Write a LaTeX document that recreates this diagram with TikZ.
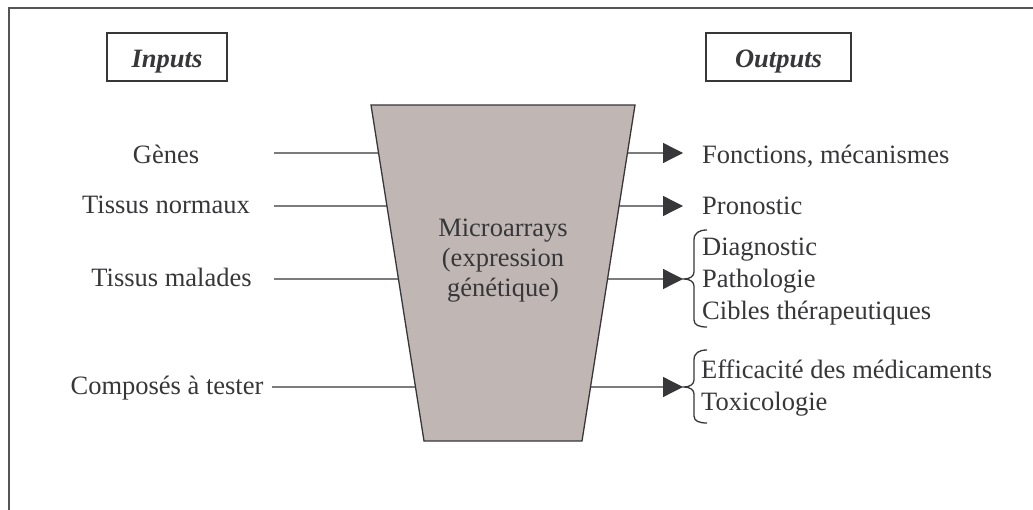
\documentclass[tikz,border=0pt]{standalone}
\usepackage{fontspec}
\setmainfont{Liberation Serif}
\usetikzlibrary{arrows.meta,calc}
\definecolor{ink}{RGB}{55,55,58}
\definecolor{framec}{RGB}{85,85,88}
\definecolor{trapfill}{RGB}{192,182,180}
\begin{document}
\begin{tikzpicture}[x=1pt,y=-1pt,
 lbl/.style={inner sep=0pt,text=ink,font=\fontsize{26.5}{30}\selectfont},
 conn/.style={draw=ink,line width=1.3pt},
 arr/.style={conn,-{Triangle[length=20pt,width=20pt]}},
 hdr/.style={draw=ink,line width=1.3pt,inner sep=0pt,minimum height=48pt,text height=24pt,text depth=2pt,text=ink,font=\fontsize{26.5}{30}\selectfont\bfseries\itshape},
 brc/.style={draw=ink,line width=1.3pt}]
\useasboundingbox (0,0) rectangle (1033,510);
\fill[white] (0,0) rectangle (1033,510);
\draw[draw=framec,line width=1.8pt] (9,515) -- (9,8) -- (1040,8);
% headers
\node[hdr,minimum width=120pt] (inp) at (167,57) {Inputs};
\node[hdr,minimum width=145pt] (outp) at (778.5,57) {Outputs};
% trapezoid
\coordinate (TL) at (371,105);
\coordinate (TR) at (635,105);
\coordinate (BR) at (582,441);
\coordinate (BL) at (424,441);
\draw[draw=ink,line width=1.3pt,fill=trapfill] (TL) -- (TR) -- (BR) -- (BL) -- cycle;
\node[lbl,align=center,anchor=base] (mic) at (503,297) {Microarrays\\(expression\\génétique)};
% inputs
\node[lbl,anchor=base] (g) at (166,164) {Gènes};
\node[lbl,anchor=base] (tn) at (166,214) {Tissus normaux};
\node[lbl,anchor=base] (tm) at (171.5,287) {Tissus malades};
\node[lbl,anchor=base] (cp) at (167,395) {Composés à tester};
\coordinate (g0) at (274,153);
\coordinate (tn0) at (274,206);
\coordinate (tm0) at (274,279);
\coordinate (cp0) at (272,387);
\coordinate (gL) at ($(TL)!0.142857!(BL)$);
\coordinate (tnL) at ($(TL)!0.300595!(BL)$);
\coordinate (tmL) at ($(TL)!0.517857!(BL)$);
\coordinate (cpL) at ($(TL)!0.839286!(BL)$);
\draw[conn] (g0) -- (gL);
\draw[conn] (tn0) -- (tnL);
\draw[conn] (tm0) -- (tmL);
\draw[conn] (cp0) -- (cpL);
% outputs
\coordinate (fR) at ($(TR)!0.142857!(BR)$);
\coordinate (pR) at ($(TR)!0.300595!(BR)$);
\coordinate (dR) at ($(TR)!0.517857!(BR)$);
\coordinate (eR) at ($(TR)!0.839286!(BR)$);
\coordinate (f1) at (683,153);
\coordinate (p1) at (683,206);
\coordinate (d1) at (683,279);
\coordinate (e1) at (683,387);
\draw[arr] (fR) -- (f1);
\draw[arr] (pR) -- (p1);
\draw[arr] (dR) -- (d1);
\draw[arr] (eR) -- (e1);
\node[lbl,anchor=base west] (fo) at (702,164) {Fonctions, mécanismes};
\node[lbl,anchor=base west] (pr) at (702,215) {Pronostic};
\node[lbl,anchor=base west] (di) at (702,256) {Diagnostic};
\node[lbl,anchor=base west] (pa) at (702,288) {Pathologie};
\node[lbl,anchor=base west] (ci) at (702,320) {Cibles thérapeutiques};
\node[lbl,anchor=base west] (ef) at (701,378) {Efficacité des médicaments};
\node[lbl,anchor=base west] (tx) at (701,410) {Toxicologie};
% braces
\draw[brc] (707,230) .. controls (699,230) and (694,233) .. (694,240) -- (694,272)
  .. controls (694,276) and (690,279) .. (684,279)
  .. controls (690,279) and (694,282) .. (694,286) -- (694,320)
  .. controls (694,325) and (699,327) .. (707,327);
\draw[brc] (707,350) .. controls (699,350) and (694,353) .. (694,360) -- (694,380)
  .. controls (694,384) and (690,387) .. (684,387)
  .. controls (690,387) and (694,390) .. (694,394) -- (694,416)
  .. controls (694,421) and (699,423) .. (707,423);
\end{tikzpicture}
\end{document}
